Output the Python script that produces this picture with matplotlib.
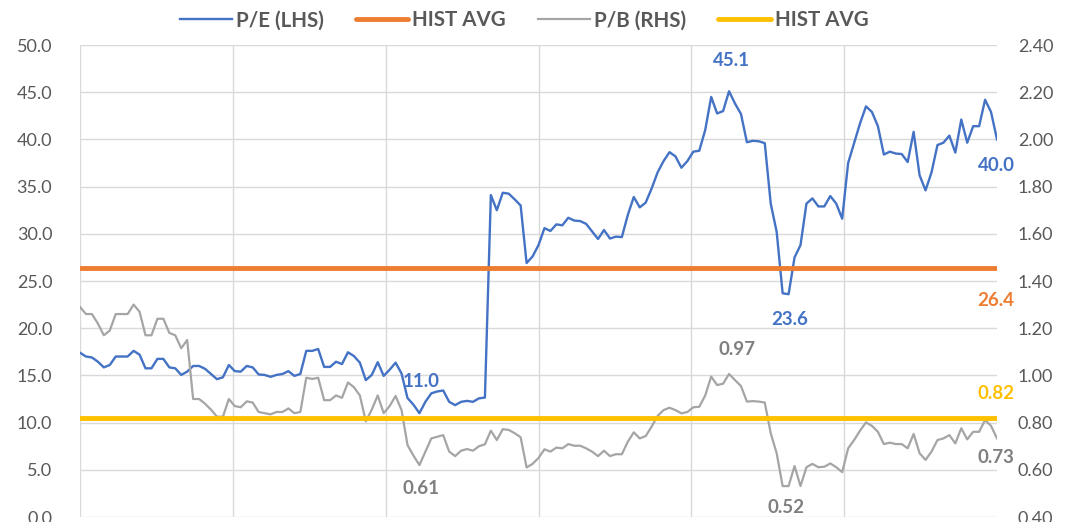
import numpy as np
import matplotlib
matplotlib.use("Agg")
import matplotlib.pyplot as plt
from matplotlib.ticker import FormatStrFormatter

plt.rcParams['font.family'] = ['Lato', 'DejaVu Sans']

# P/E ratio (left axis)
pe = [17.4, 17.0, 16.9, 16.45, 15.85, 16.1, 17.0, 17.0, 17.0, 17.6,
      17.2, 15.75, 15.75, 16.75, 16.75, 15.85, 15.75, 15.05, 15.4, 16.0,
      16.0, 15.7, 15.15, 14.6, 14.8, 16.1, 15.45, 15.4, 16.0, 15.85,
      15.1, 15.05, 14.85, 15.05, 15.15, 15.45, 14.95, 15.15, 17.6, 17.6,
      17.8, 15.9, 15.9, 16.45, 16.2, 17.45, 17.05, 16.35, 14.5, 15.05,
      16.4, 14.95, 15.6, 16.35, 15.2, 12.6, 11.9, 11.0, 12.2, 13.1,
      13.3, 13.4, 12.2, 11.85, 12.2, 12.3, 12.2, 12.57, 12.65, 34.1,
      32.5, 34.35, 34.25, 33.65, 33.0, 26.9, 27.6, 28.8, 30.6, 30.3,
      31.0, 30.9, 31.7, 31.4, 31.35, 31.05, 30.25, 29.45, 30.4, 29.5,
      29.7, 29.65, 32.0, 33.9, 32.8, 33.3, 34.8, 36.5, 37.7, 38.65,
      38.2, 37.0, 37.7, 38.7, 38.8, 41.0, 44.5, 42.75, 43.0, 45.1,
      43.8, 42.7, 39.7, 39.85, 39.8, 39.6, 33.2, 30.2, 23.7, 23.6,
      27.5, 28.8, 33.2, 33.75, 32.9, 32.9, 34.0, 33.2, 31.6, 37.5,
      39.6, 41.7, 43.5, 42.9, 41.4, 38.4, 38.7, 38.5, 38.45, 37.6,
      40.8, 36.2, 34.6, 36.5, 39.4, 39.65, 40.4, 38.6, 42.1, 39.65,
      41.4, 41.4, 44.2, 42.9, 40.0]

# P/B ratio (right axis)
pb = [1.29, 1.26, 1.26, 1.22, 1.17, 1.19, 1.26, 1.26, 1.26, 1.30,
      1.27, 1.17, 1.17, 1.24, 1.24, 1.18, 1.17, 1.115, 1.15, 0.90,
      0.90, 0.88, 0.855, 0.825, 0.825, 0.90, 0.87, 0.865, 0.89, 0.885,
      0.845, 0.84, 0.835, 0.845, 0.845, 0.86, 0.84, 0.845, 0.99, 0.985,
      0.99, 0.895, 0.895, 0.915, 0.905, 0.97, 0.95, 0.915, 0.805, 0.855,
      0.915, 0.84, 0.87, 0.913, 0.853, 0.705, 0.66, 0.62, 0.677, 0.733,
      0.74, 0.747, 0.677, 0.658, 0.681, 0.688, 0.681, 0.70, 0.708, 0.766,
      0.726, 0.772, 0.769, 0.755, 0.738, 0.61, 0.625, 0.65, 0.687, 0.677,
      0.694, 0.691, 0.709, 0.702, 0.702, 0.691, 0.677, 0.658, 0.681, 0.658,
      0.666, 0.666, 0.719, 0.759, 0.733, 0.743, 0.783, 0.828, 0.853, 0.863,
      0.853, 0.839, 0.845, 0.865, 0.867, 0.915, 0.995, 0.959, 0.965, 1.006,
      0.98, 0.955, 0.889, 0.891, 0.889, 0.885, 0.755, 0.67, 0.531, 0.531,
      0.616, 0.531, 0.611, 0.625, 0.611, 0.613, 0.627, 0.611, 0.59, 0.691,
      0.726, 0.766, 0.801, 0.786, 0.761, 0.709, 0.715, 0.709, 0.709, 0.691,
      0.752, 0.67, 0.642, 0.677, 0.726, 0.733, 0.747, 0.712, 0.776, 0.729,
      0.761, 0.761, 0.811, 0.786, 0.733]

pe_avg = 26.4
pb_avg = 0.82

legend_labels = ["P/E (LHS)", "HIST AVG", "P/B (RHS)", "HIST AVG"]

# data labels: (index, text, dx, dy) in pixels
pe_labels = [(109, "45.1", 2, 31), (57, "11.0", 2, 32), (119, "23.6", 1, -25), (154, "40.0", -1, -26)]
pb_labels = [(109, "0.97", 8, 24), (57, "0.61", 2, -23), (119, "0.52", -3, -21), (154, "0.73", -1, -19)]

BLUE = "#4472C4"
ORANGE = "#ED7D31"
GRAY = "#A5A5A5"
GOLD = "#FFC000"
TXT = "#595959"
GRID = "#D9D9D9"

n = len(pe)
x = np.arange(n)

fig = plt.figure(figsize=(10.7, 5.22), dpi=100)
ax = fig.add_axes([80/1070, 5/522, 917/1070, 472/522])
ax2 = ax.twinx()

l1, = ax.plot(x, pe, color=BLUE, lw=1.7, zorder=3)
l2, = ax.plot(x, np.full(n, pe_avg), color=ORANGE, lw=3.5, solid_capstyle='round', zorder=4)
l3, = ax2.plot(x, pb, color=GRAY, lw=1.6, zorder=3)
l4, = ax2.plot(x, np.full(n, pb_avg), color=GOLD, lw=3.5, solid_capstyle='round', zorder=4)

ax.set_xlim(0, n - 1)
ax.set_ylim(0, 50)
ax2.set_ylim(0.4, 2.4)
ax.set_yticks(np.arange(0, 50.1, 5))
ax2.set_yticks(np.arange(0.4, 2.41, 0.2))
ax.yaxis.set_major_formatter(FormatStrFormatter('%.1f'))
ax2.yaxis.set_major_formatter(FormatStrFormatter('%.2f'))
ax.set_xticks(np.linspace(0, n - 1, 7)[:-1])
ax.set_xticklabels([])

ax.grid(True, color=GRID, lw=1.0, zorder=0)
ax.set_axisbelow(True)
for a in (ax, ax2):
    for s in a.spines.values():
        s.set_visible(False)
ax.tick_params(axis='y', length=0, pad=20, labelsize=13, labelcolor=TXT)
ax.tick_params(axis='x', length=0)
ax2.tick_params(axis='y', length=0, pad=15, labelsize=13, labelcolor=TXT)

for i, t, dx, dy in pe_labels:
    ax2.annotate(t, xy=(x[i], pe[i]), xycoords=ax.transData, xytext=(dx, dy),
                 textcoords='offset pixels', ha='center', va='center',
                 color=BLUE, fontsize=13.5, fontweight='bold', zorder=10)
for i, t, dx, dy in pb_labels:
    ax2.annotate(t, xy=(x[i], pb[i]), xytext=(dx, dy),
                 textcoords='offset pixels', ha='center', va='center',
                 color="#7F7F7F", fontsize=13.5, fontweight='bold', zorder=10)
ax2.annotate(f"{pe_avg:.1f}", xy=(x[-1], pe_avg), xycoords=ax.transData, xytext=(-1, -33),
             textcoords='offset pixels', ha='center', va='center',
             color=ORANGE, fontsize=13.5, fontweight='bold', zorder=10)
ax2.annotate(f"{pb_avg:.2f}", xy=(x[-1], pb_avg), xytext=(-1, 24),
             textcoords='offset pixels', ha='center', va='center',
             color=GOLD, fontsize=13.5, fontweight='bold', zorder=10)

fig.legend([l1, l2, l3, l4], legend_labels, loc='center', bbox_to_anchor=(0.4897, 0.961),
           ncol=4, frameon=False, prop={'size': 14.8, 'weight': 'bold'}, labelcolor=TXT,
           handlelength=2.55, handletextpad=0.2, columnspacing=1.55)

fig.savefig("out.png", dpi=100)
